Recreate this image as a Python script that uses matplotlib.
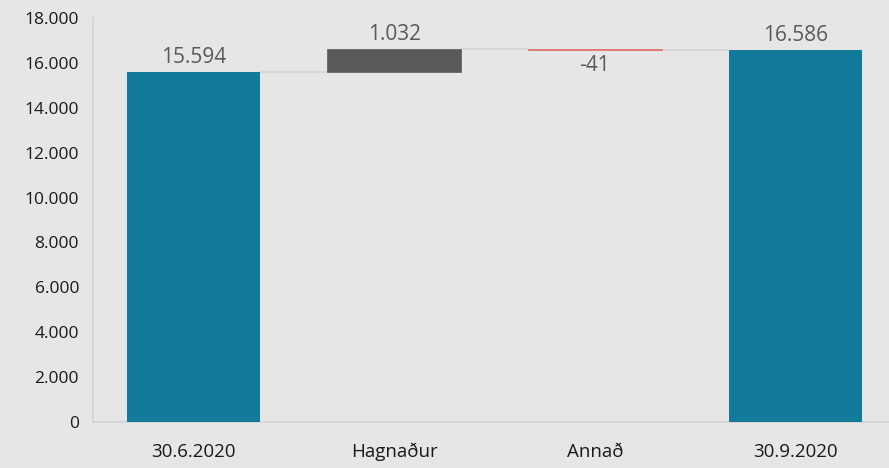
import numpy as np
import matplotlib as mpl
from matplotlib import pyplot as plt

mpl.rcParams['font.family'] = ['Open Sans', 'DejaVu Sans']

categories = ['30.6.2020', 'Hagnaður', 'Annað', '30.9.2020']
start_value = 15594
changes = [1032, -41]
end_value = 16586

bg = '#e6e6e6'
teal = '#127b9b'
dark = '#595959'
red = '#e06666'
txt = '#595959'

fig = plt.figure(figsize=(8.89, 4.68), dpi=100, facecolor=bg)
ax = fig.add_axes([93/889, 46/468, 803/889, 404/468], facecolor=bg)

x = np.arange(len(categories))
w = 0.665

# totals
ax.bar(x[0], start_value, width=w, color=teal, zorder=3)
ax.bar(x[3], end_value, width=w, color=teal, zorder=3)

# floating bars
level = start_value
bottoms = []
for i, c in enumerate(changes):
    col = dark if c > 0 else red
    ax.bar(x[i + 1], c, bottom=level, width=w, color=col, zorder=3,
           edgecolor=col, linewidth=0.5)
    bottoms.append(level)
    level += c

# connectors
levels = [start_value, start_value + changes[0], start_value + changes[0] + changes[1]]
for i, lv in enumerate(levels):
    ax.plot([x[i] + w/2, x[i + 1] - w/2], [lv, lv], color='#d4d4d4', lw=1.2, zorder=2)

# labels
fs = 15
ax.text(x[0], start_value + 180, '15.594', ha='center', va='bottom', fontsize=fs, color=txt)
ax.text(x[1], start_value + changes[0] + 180, '1.032', ha='center', va='bottom', fontsize=fs, color=txt)
ax.text(x[2], bottoms[1] + changes[1] - 250, '-41', ha='center', va='top', fontsize=fs, color=txt)
ax.text(x[3], end_value + 180, '16.586', ha='center', va='bottom', fontsize=fs, color=txt)

ax.set_xlim(-0.5, 3.5)
ax.set_ylim(0, 18000)
yt = np.arange(0, 18001, 2000)
ax.set_yticks(yt)
ax.set_yticklabels(['{:,}'.format(v).replace(',', '.') for v in yt], fontsize=12.5, color='#1a1a1a')
ax.set_xticks(x)
ax.set_xticklabels(categories, fontsize=13.5, color='#1a1a1a')
ax.tick_params(length=0, pad=10)
ax.tick_params(axis='x', pad=15)

for s in ['top', 'right']:
    ax.spines[s].set_visible(False)
ax.spines['left'].set_color('#d4d4d4')
ax.spines['bottom'].set_color('#d4d4d4')
ax.spines['left'].set_linewidth(1.2)
ax.spines['bottom'].set_linewidth(1.2)

fig.savefig('out.png', dpi=100, facecolor=bg)
